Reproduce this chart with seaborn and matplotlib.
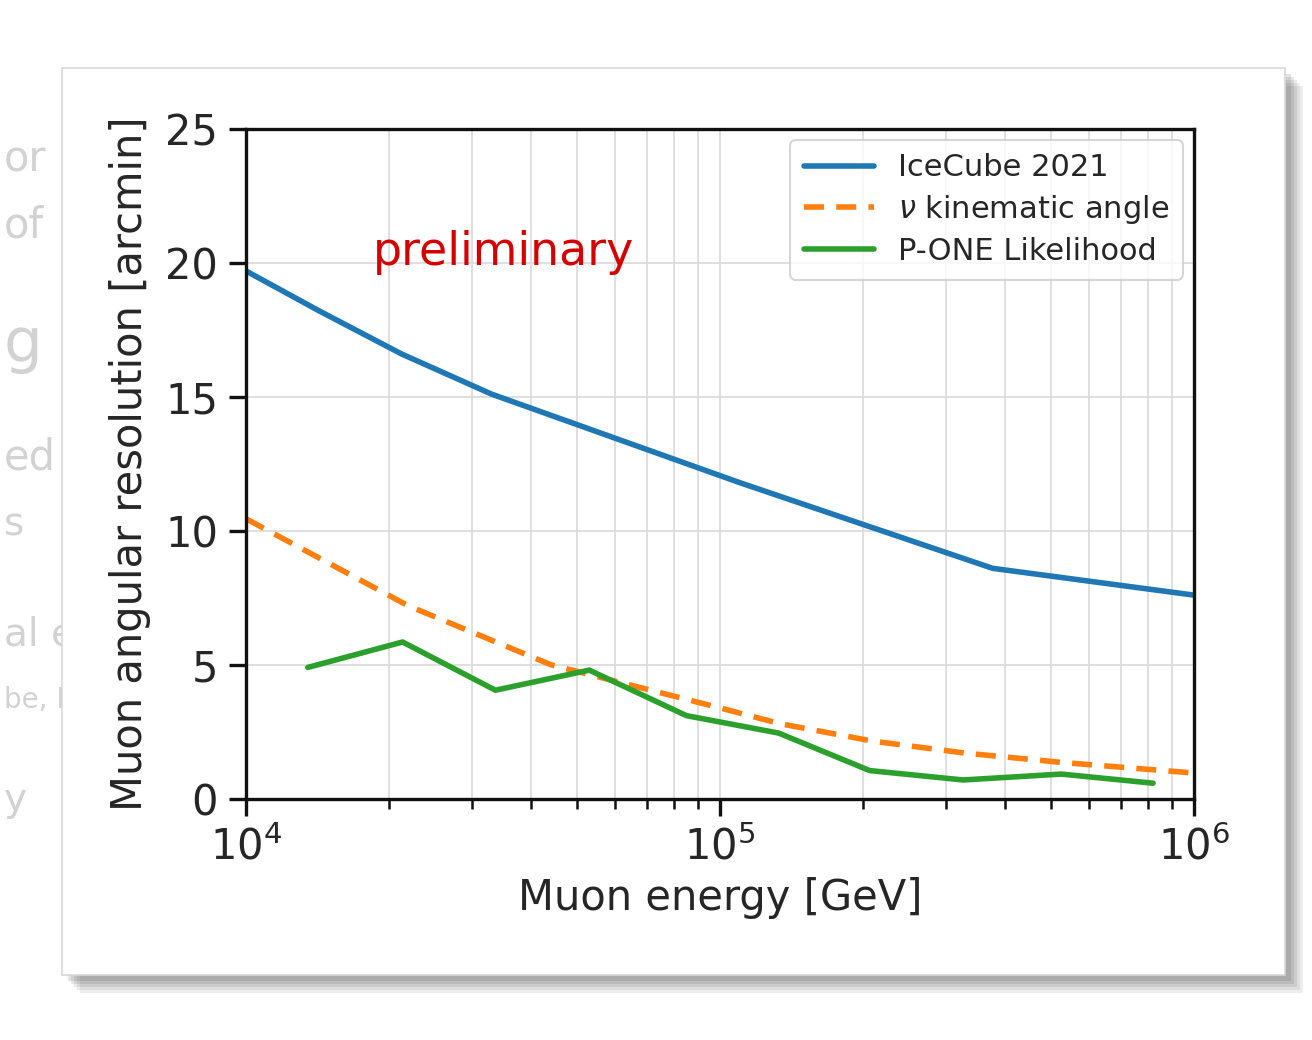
import numpy as np
import pandas as pd
import matplotlib
matplotlib.use("Agg")
import matplotlib.pyplot as plt
import seaborn as sns
from matplotlib.patches import FancyBboxPatch

# Muon angular resolution [arcmin] versus muon energy [GeV]
icecube_energy = [1.0e4, 1.43e4, 2.13e4, 3.3e4, 1.1e5, 3.76e5, 1.0e6]
icecube_res = [19.7, 18.2, 16.6, 15.1, 11.8, 8.6, 7.6]

kinematic_energy = [1.0e4, 2.2e4, 4.4e4, 9.7e4, 1.34e5, 2.1e5, 3.3e5, 5.3e5, 1.0e6]
kinematic_res = [10.45, 7.2, 5.0, 3.45, 2.8, 2.15, 1.7, 1.35, 0.96]

pone_energy = [1.35e4, 2.14e4, 3.36e4, 5.3e4, 8.5e4, 1.33e5, 2.07e5, 3.26e5, 5.25e5, 8.2e5]
pone_res = [4.9, 5.85, 4.05, 4.8, 3.1, 2.45, 1.05, 0.7, 0.92, 0.58]

series_names = ["IceCube 2021", r"$\nu$ kinematic angle", "P-ONE Likelihood"]
series_colors = ["#1f77b4", "#ff7f0e", "#2ca02c"]

y_ticks = [0, 5, 10, 15, 20, 25]

frames = []
for name, e, r in zip(series_names,
                      [icecube_energy, kinematic_energy, pone_energy],
                      [icecube_res, kinematic_res, pone_res]):
    frames.append(pd.DataFrame({"energy": e, "resolution": r, "series": name}))
df = pd.concat(frames, ignore_index=True)

sns.set_style("ticks")
plt.rcParams["font.family"] = ["DejaVu Sans"]

fig = plt.figure(figsize=(13.12, 10.4), dpi=100)
fig.patch.set_facecolor("white")

# faint words of the page behind the card
for txt, ypx, fs in [("or", 160, 30), ("of", 225, 30), ("g", 345, 44), ("ed", 458, 30),
                     ("s", 525, 28), ("al et", 635, 28), ("be, KM", 700, 20), ("y", 800, 28)]:
    fig.text(0.003, 1 - ypx / 1040, txt, color="#d2d2d2", fontsize=fs,
             ha="left", va="center", zorder=0)

# card with a soft drop shadow
W, H = 1312, 1040
cl, cr, ct, cb = 62, 1285, 68, 975
for k, a in enumerate([0.10, 0.10, 0.12, 0.14, 0.16]):
    off = 18 - 3 * k
    fig.patches.append(FancyBboxPatch(((cl + off) / W, 1 - (cb + off) / H),
                                      (cr - cl) / W, (cb - ct) / H,
                                      boxstyle="square,pad=0", transform=fig.transFigure,
                                      facecolor="#555555", edgecolor="none", alpha=a, zorder=1))
fig.patches.append(FancyBboxPatch((cl / W, 1 - cb / H), (cr - cl) / W, (cb - ct) / H,
                                  boxstyle="square,pad=0", transform=fig.transFigure,
                                  facecolor="white", edgecolor="#d8d8d8", lw=1.2, zorder=2))

ax = fig.add_axes([0.1875, 0.232, 0.7225, 0.644])
ax.set_zorder(3)

sns.lineplot(data=df, x="energy", y="resolution", hue="series", style="series",
             palette=dict(zip(series_names, series_colors)),
             dashes={series_names[0]: "", series_names[1]: (3.6, 2.2), series_names[2]: ""},
             sort=False, estimator=None, linewidth=4, ax=ax)

ax.set_xscale("log")
ax.set_xlim(1e4, 1e6)
ax.set_ylim(0, 25)
ax.set_yticks(y_ticks)
ax.grid(which="both", axis="x", color="#dcdcdc", lw=1.3)
ax.grid(which="major", axis="y", color="#dcdcdc", lw=1.3)
ax.set_axisbelow(True)

for s in ax.spines.values():
    s.set_linewidth(2.4)
    s.set_color("#111111")
ax.tick_params(which="major", length=12, width=2.4, labelsize=30, pad=8, color="#111111")
ax.tick_params(which="minor", length=7, width=1.8, color="#111111")

ax.set_xlabel("Muon energy [GeV]", fontsize=30, labelpad=6)
ax.set_ylabel("Muon angular resolution [arcmin]", fontsize=30, labelpad=10)

ax.text(3.5e4, 20.4, "preliminary", color="#d40000", fontsize=33,
        ha="center", va="center")

handles, labels = ax.get_legend_handles_labels()
for h in handles:
    h.set_linewidth(4)
leg = ax.legend(handles, labels, loc="upper right", fontsize=22, frameon=True,
                fancybox=True, edgecolor="#cccccc", handlelength=2.3,
                borderaxespad=0.35, labelspacing=0.35, borderpad=0.45)
leg.get_frame().set_linewidth(1.5)

fig.savefig("out.png", dpi=100, facecolor="white")
